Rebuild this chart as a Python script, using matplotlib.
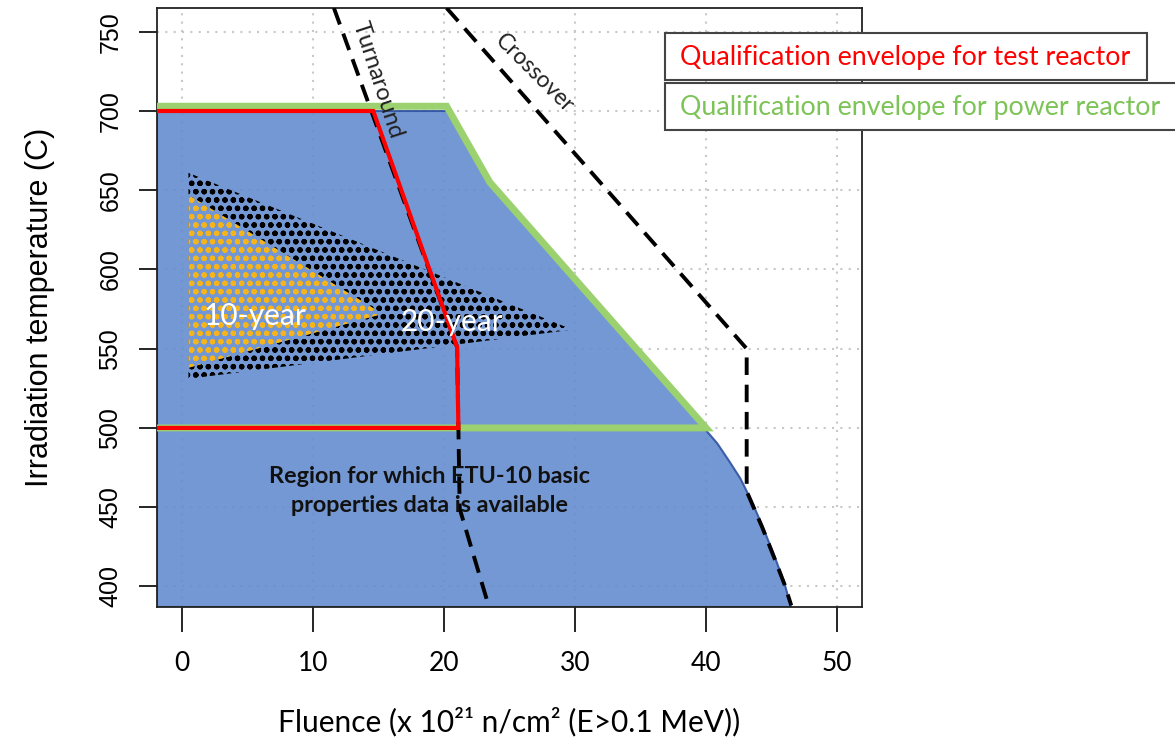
import matplotlib
matplotlib.use('Agg')
import matplotlib.pyplot as plt
from matplotlib.patches import Polygon, Rectangle

# --- data (fluence in 1e21 n/cm2, temperature in C) ---
etu_x = [-1.9, 20.2, 23.5, 39.86, 40.85, 41.77, 42.61, 43.45, 44.28, 45.2, 45.96, 46.49, -1.9]
etu_y = [700, 700, 655, 499.8, 490.3, 479.0, 468.2, 454.3, 438.5, 419.6, 402.5, 387, 387]

power_x = [-1.9, 20.2, 23.5, 40.0, -1.9]
power_y = [703, 703, 655, 500, 500]

test_x = [-1.9, 14.6, 21.0, 21.1, -1.9]
test_y = [700, 700, 551, 500, 500]

turn_x = [11.6, 21.0, 21.2, 23.4]
turn_y = [765, 551, 449, 388]

cross_x = [20.2, 43.1, 43.1, 44.3, 45.3, 46.0, 46.5]
cross_y = [765, 550, 460, 437, 416, 401, 388]

yr20_x = [0.5, 29.8, 0.5]
yr20_y = [661, 562, 531]
yr10_x = [0.5, 15.3, 0.5]
yr10_y = [647, 572, 538]

x_ticks = [0, 10, 20, 30, 40, 50]
y_ticks = [400, 450, 500, 550, 600, 650, 700, 750]

BLUE = '#658dcf'
GREEN = '#9bd16f'
RED = '#ff0000'
YELLOW = '#f4b41a'
CAL = ['Lato', 'DejaVu Sans']
ARIAL = ['Liberation Sans', 'DejaVu Sans']

plt.rcParams['hatch.linewidth'] = 1.55

fig = plt.figure(figsize=(11.75, 7.41), dpi=100)
ax = fig.add_axes([157 / 1175, 1 - 607 / 741, 705 / 1175, 599 / 741])
ax.set_xlim(-1.9, 51.9)
ax.set_ylim(387, 765)
ax.set_axisbelow(True)
ax.grid(color='#c8c8c8', linestyle=(0, (1, 3)), linewidth=1.5)

# region with ETU-10 data
ax.add_patch(Polygon(list(zip(etu_x, etu_y)), closed=True, facecolor=BLUE, alpha=0.9,
                     edgecolor='#2f52a0', linewidth=1.5, zorder=1))

# dotted 20-year / 10-year regions
ax.add_patch(Polygon(list(zip(yr20_x, yr20_y)), closed=True, facecolor='none',
                     edgecolor='black', linewidth=0, hatch='..oo', zorder=2))
ax.add_patch(Polygon(list(zip(yr10_x, yr10_y)), closed=True, facecolor='#7297d4',
                     edgecolor=YELLOW, linewidth=0, hatch='..oo', zorder=2.1))

# envelopes
ax.plot(power_x, power_y, color=GREEN, linewidth=5, solid_joinstyle='miter', zorder=3)
ax.plot(test_x, test_y, color=RED, linewidth=3, solid_joinstyle='miter', zorder=4)

# turnaround / crossover lines
ax.plot(turn_x, turn_y, color='black', linewidth=2.8, dashes=(4.5, 2.5), zorder=3.5)
ax.plot(cross_x, cross_y, color='black', linewidth=2.8, dashes=(4.5, 2.5), zorder=3.5)

ax.text(14.9, 719.6, 'Turnaround', rotation=-72, rotation_mode='anchor',
        ha='center', va='center', fontsize=17, color='#222222', family=CAL, zorder=5)
ax.text(26.9, 724, 'Crossover', rotation=-45, rotation_mode='anchor',
        ha='center', va='center', fontsize=16.5, color='#222222', family=CAL, zorder=5)
ax.text(5.6, 570.6, '10-year', ha='center', va='center', fontsize=21.5,
        color='white', family=CAL, zorder=5)
ax.text(20.6, 566.8, '20-year', ha='center', va='center', fontsize=21.5,
        color='white', family=CAL, zorder=5)
ax.text(18.9, 460, 'Region for which ETU-10 basic\nproperties data is available',
        ha='center', va='center', fontsize=16.8, fontweight='bold', color='#111111',
        family=CAL, linespacing=1.45, zorder=5)

ax.set_xticks(x_ticks)
ax.set_yticks(y_ticks)
ax.tick_params(axis='x', length=18, width=1.2, pad=14, labelsize=19)
ax.tick_params(axis='y', length=13, width=1.2, pad=12, labelsize=18)
for lbl in ax.get_xticklabels():
    lbl.set_family(CAL)
for lbl in ax.get_yticklabels():
    lbl.set_family(ARIAL)
    lbl.set_rotation(90)
    lbl.set_va('center')
for sp in ax.spines.values():
    sp.set_linewidth(1.3)
    sp.set_color('#222222')

ax.set_xlabel('Fluence (x 10²¹ n/cm² (E>0.1 MeV))', fontsize=21.5, family=CAL, labelpad=22)
ax.set_ylabel('Irradiation temperature (C)', fontsize=22, family=ARIAL, labelpad=31)

# legend boxes
H = 741
fig.patches.append(Rectangle((665 / 1175, 1 - 80 / H), 482 / 1175, 47 / H,
                             transform=fig.transFigure, facecolor='white',
                             edgecolor='#444444', linewidth=1.5, zorder=10))
fig.patches.append(Rectangle((665 / 1175, 1 - 130 / H), 520 / 1175, 47 / H,
                             transform=fig.transFigure, facecolor='white',
                             edgecolor='#444444', linewidth=1.5, zorder=10))
fig.text(680 / 1175, 1 - 57 / H, 'Qualification envelope for test reactor',
         color=RED, fontsize=19.3, family=CAL, va='center', ha='left', zorder=11)
fig.text(680 / 1175, 1 - 107 / H, 'Qualification envelope for power reactor',
         color='#7cc457', fontsize=19.3, family=CAL, va='center', ha='left', zorder=11)

fig.savefig('out.png', dpi=100)
